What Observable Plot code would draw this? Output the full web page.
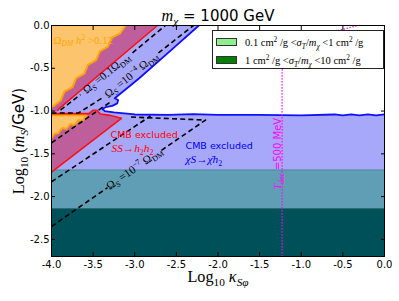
<!DOCTYPE html>
<html><head><meta charset="utf-8">
<script src="https://cdn.jsdelivr.net/npm/d3@7"></script>
<script src="https://cdn.jsdelivr.net/npm/@observablehq/plot@0.6"></script>
<style>
body{margin:0;background:#fff;}
#wrap{position:relative;width:399px;height:301px;}
#wrap svg{display:block;}
#legend{position:absolute;left:212px;top:30px;width:172px;height:39px;box-sizing:border-box;border:1px solid #222;background:#fff;font-family:"Liberation Serif",serif;font-size:10.5px;color:#000;}
.row{position:absolute;left:3px;display:flex;align-items:center;white-space:nowrap;height:12px;}
.patch{width:19px;height:6px;border:1px solid #333;margin-right:8px;}
sub,sup{font-size:70%;line-height:0;}
</style></head><body><div id="wrap"></div>
<script>
// ---------- data ----------
const xTicks = [-4, -3.5, -3, -2.5, -2, -1.5, -1, -0.5, 0];
const yTicks = [0, -0.5, -1, -1.5, -2, -2.5];
const xDomain = [-4, 0];
const yDomain = [-2.7, 0];

// CMB exclusion (chi S -> chi-bar h2): blue boundary line
const blueLineX = [-2.23, -2.6, -2.95, -3.24, -3.2, -3.21, -3.27, -3.35, -3.39, -3.36, -3.25, -3.0, -2.6, -2.3, -2.0, -1.5, -1.0, -0.6, -0.5, -0.4, -0.3, -0.2, -0.1, 0];
const blueLineY = [0, -0.32, -0.62, -0.85, -0.87, -0.91, -0.94, -0.955, -0.975, -1.0, -1.015, -1.04, -1.045, -1.035, -1.045, -1.045, -1.05, -1.04, -1.05, -1.04, -1.05, -1.04, -1.05, -1.04];
const cornerX = [0, -4, -4];
const cornerY = [-2.7, -2.7, 0];

// CMB exclusion (SS -> h2 h2): red bounded regions
const purpleUpX = [-4, -2.727, -3.916, -3.93, -3.96, -4];
const purpleUpY = [0, 0, -0.977, -1.0, -1.01, -1.01];
const purpleLoX = [-4, -3.55, -3.5, -3.46, -3.41, -3.3, -3.16, -4];
const purpleLoY = [-1.03, -1.03, -0.99, -0.99, -1.035, -1.05, -1.085, -1.715];

// Omega_DM h^2 > 0.12 regions
const orangeUpX = [-4, -3.11, -3.175, -3.278, -3.323, -3.420, -3.464, -3.562, -3.606, -3.703, -3.748, -3.845, -3.889, -3.974, -4];
const orangeUpY = [0, 0, -0.091, -0.145, -0.248, -0.302, -0.405, -0.459, -0.562, -0.616, -0.719, -0.773, -0.876, -0.942, -0.95];
const orangeLoX = [-4, -3.58, -3.628, -3.676, -3.724, -3.772, -3.82, -3.868, -3.916, -3.964, -4];
const orangeLoY = [-1.05, -1.05, -1.116, -1.105, -1.163, -1.151, -1.209, -1.198, -1.256, -1.267, -1.314];

// self-interaction bands
const bandLow = [-2.14, -1.69];   // 0.1 < sigma/m < 1
const bandHigh = [-2.7, -2.14];   // 1 < sigma/m < 10

// Omega_S contours (dashed)
const d1aX = [-3.892, -3.652], d1aY = [-0.988, -0.808];
const d1bX = [-3.027, -2.631], d1bY = [-0.320, 0];
const d2aX = [-4, -3.676, -3.375], d2aY = [-1.023, -1.023, -0.837];
const d2bX = [-2.715, -2.294], d2bY = [-0.320, 0];
const l1X = [-4, -3.47, -3.3], l1Y = [-1.372, -1.012, -0.9];
const l2X = [-4, -2.811], l2Y = [-1.826, -1.058];
const l3aX = [-4, -3.327], l3aY = [-2.349, -1.895];
const l3bX = [-2.679, -2.15, -3.051], l3bY = [-1.459, -1.105, -1.07];

// T_dec = 500 MeV (dotted)
const tdecX = [-1.23, -1.23, -1.22, -1.1, -0.8, -0.32];
const tdecY = [-2.7, -0.55, -0.4, -0.25, -0.12, 0];

const titleText = "m_χ = 1000 GeV";
const xLabel = "Log_10 κ_Sφ";
const yLabel = "Log_10 (m_S/GeV)";

const annotations = [
  {text: "Ω_DM h² > 0.12", x: -3.975, y: -0.174, color: "#ffa500", size: 10, rotate: 0, anchor: "start"},
  {text: "Ω_S = 0.1 Ω_DM", x: -3.339, y: -0.564, color: "#000", size: 10.5, rotate: -39, anchor: "middle"},
  {text: "Ω_S = 10^-4 Ω_DM", x: -3.039, y: -0.581, color: "#000", size: 10.5, rotate: -39, anchor: "middle"},
  {text: "Ω_S = 10^-7 Ω_DM", x: -3.003, y: -1.674, color: "#000", size: 10.5, rotate: -35, anchor: "middle"},
  {text: "CMB excluded", x: -3.291, y: -1.283, color: "#ff0000", size: 9.5, rotate: 0, anchor: "start"},
  {text: "SS→h₂h₂", x: -3.279, y: -1.442, color: "#ff0000", size: 10.5, rotate: 0, anchor: "start"},
  {text: "CMB excluded", x: -2.39, y: -1.407, color: "#0000ff", size: 9.5, rotate: 0, anchor: "start"},
  {text: "χS→χ̄h₂", x: -2.39, y: -1.57, color: "#0000ff", size: 10.5, rotate: 0, anchor: "start"}
];
const tdecLabel = {text: "T_dec = 500 MeV", x: -1.23, y: -1.5};

const SERIF = "Liberation Serif";
const RICH = {
  "m_χ = 1000 GeV": [["m","i"],["χ","i sub"],[" = 1000 GeV",""]],
  "Log_10 (m_S/GeV)": [["Log","s"],["10","s sub"],[" (","s"],["m","i"],["S","i sub"],["/GeV)",""]],
  "Log_10 κ_Sφ": [["Log","s"],["10","s sub"],[" ","s"],["κ","i"],["Sφ","i sub"]],
  "Ω_DM h² > 0.12": [["Ω","s"],["DM","i sub"],[" h","i"],["2","s sup"],[" >0.12","s"]],
  "Ω_S = 0.1 Ω_DM": [["Ω","s"],["S","i sub"],[" =0.1","s"],["Ω","s"],["DM","s sub"]],
  "Ω_S = 10^-4 Ω_DM": [["Ω","s"],["S","i sub"],[" =10","s"],["−4","s sup"],[" Ω","s"],["DM","s sub"]],
  "Ω_S = 10^-7 Ω_DM": [["Ω","s"],["S","i sub"],[" =10","s"],["−7","s sup"],[" Ω","s"],["DM","s sub"]],
  "SS→h₂h₂": [["SS","i"],["→","s"],["h","i"],["2","s sub"],["h","i"],["2","s sub"]],
  "χS→χ̄h₂": [["χS","i"],["→","s"],["χ̄","i"],["h","i"],["2","s sub"]],
  "T_dec = 500 MeV": [["T","i"],["dec","i sub"],[" =500 MeV",""]]
};

// ---------- styles ----------
const C = {blue: "#a8a8fb", blueLine: "#1010ff", purple: "#be5f9c", orange: "#fcc46c", orangeLine: "#ffa500",
  red: "#ff1010", tealLight: "#5f9eb5", tealDark: "#00505a", magenta: "#ff00ff"};

const P = (xs, ys) => xs.map((x, i) => ({x, y: ys[i]}));
const poly = (xs, ys, fill) => Plot.line(P(xs, ys), {x: "x", y: "y", fill, stroke: "none"});
const path = (xs, ys, o) => Plot.line(P(xs, ys), {x: "x", y: "y", strokeLinejoin: "round", strokeLinecap: "butt", ...o});
const dashed = {stroke: "#000", strokeWidth: 1.6, strokeDasharray: "5,3.2"};

const chart = Plot.plot({
  width: 399, height: 301,
  marginLeft: 51, marginRight: 15, marginTop: 25, marginBottom: 45,
  x: {domain: xDomain},
  y: {domain: yDomain},
  style: {fontFamily: "DejaVu Sans", fontSize: "10px", background: "#fff", overflow: "visible"},
  marks: [
    poly(blueLineX.concat(cornerX), blueLineY.concat(cornerY), C.blue),
    poly(purpleUpX, purpleUpY, C.purple),
    poly(purpleLoX, purpleLoY, C.purple),
    poly(orangeUpX, orangeUpY, C.orange),
    poly(orangeLoX, orangeLoY, C.orange),
    Plot.rect([bandLow], {x1: () => xDomain[0], x2: () => xDomain[1], y1: d => d[0], y2: d => d[1], fill: C.tealLight}),
    Plot.rect([bandHigh], {x1: () => xDomain[0], x2: () => xDomain[1], y1: d => d[0], y2: d => d[1], fill: C.tealDark}),
    Plot.ruleY([bandLow[1]], {stroke: "#4e8aa6", strokeWidth: 1}),
    Plot.ruleY([bandHigh[1]], {stroke: "#2f6f78", strokeWidth: 1}),
    path(orangeUpX.slice(1), orangeUpY.slice(1), {stroke: C.orangeLine, strokeWidth: 2}),
    path(orangeLoX, orangeLoY, {stroke: C.orangeLine, strokeWidth: 2}),
    path(purpleUpX.slice(1, 4), purpleUpY.slice(1, 4), {stroke: C.red, strokeWidth: 1.6}),
    path(purpleLoX, purpleLoY, {stroke: C.red, strokeWidth: 1.6}),
    path(d1aX, d1aY, dashed), path(d1bX, d1bY, dashed),
    path(d2aX, d2aY, dashed), path(d2bX, d2bY, dashed),
    path(l1X, l1Y, dashed), path(l2X, l2Y, dashed),
    path(l3aX, l3aY, dashed), path(l3bX, l3bY, dashed),
    path(blueLineX, blueLineY, {stroke: C.blueLine, strokeWidth: 1.8}),
    path(tdecX, tdecY, {stroke: C.magenta, strokeWidth: 1.4, strokeDasharray: "1.3,1.7"}),
    ...annotations.map(a => Plot.text([a], {x: "x", y: "y", text: "text", fill: a.color, fontSize: a.size,
      rotate: a.rotate, textAnchor: a.anchor, lineAnchor: "middle", fontFamily: "DejaVu Sans"})),
    Plot.text([tdecLabel], {x: "x", y: "y", text: "text", fill: C.magenta, fontSize: 10, rotate: -90,
      textAnchor: "middle", lineAnchor: "bottom", dx: -1}),
    Plot.frame({stroke: "#000", strokeWidth: 1}),
    Plot.axisX({ticks: xTicks, tickSize: -4, tickFormat: () => "", label: null}),
    Plot.axisX({anchor: "top", ticks: xTicks, tickSize: -4, tickFormat: () => "", label: null}),
    Plot.axisY({ticks: yTicks, tickSize: -4, tickFormat: () => "", label: null}),
    Plot.axisY({anchor: "right", ticks: yTicks, tickSize: -4, tickFormat: () => "", label: null}),
    Plot.axisX({ticks: xTicks, tickSize: 0, tickPadding: 4, tickFormat: d => d.toFixed(1), label: null, fontSize: 10}),
    Plot.axisY({ticks: yTicks, tickSize: 0, tickPadding: 2, tickFormat: d => d.toFixed(1), label: null, fontSize: 10}),
    Plot.text([titleText], {frameAnchor: "top", text: d => d, dy: -9, fontSize: 15, lineAnchor: "middle", textAnchor: "middle"}),
    Plot.text([xLabel], {frameAnchor: "bottom", text: d => d, dy: 21, fontSize: 15, lineAnchor: "middle", textAnchor: "middle"}),
    Plot.text([yLabel], {frameAnchor: "left", text: d => d, dx: -32, rotate: -90, fontSize: 15, lineAnchor: "middle", textAnchor: "middle"})
  ]
});

const wrap = document.getElementById("wrap");
wrap.appendChild(chart);

// rich text (sub/superscripts, math fonts)
chart.querySelectorAll("text").forEach(t => {
  const segs = RICH[t.textContent];
  if (!segs) return;
  const fs = parseFloat(getComputedStyle(t).fontSize) || 10;
  t.textContent = "";
  let shift = 0;
  for (const [str, style] of segs) {
    const f = style.split(" ");
    const ts = document.createElementNS("http://www.w3.org/2000/svg", "tspan");
    ts.textContent = str;
    let target = 0, size = fs;
    const serif = f.includes("i") || f.includes("s");
    if (serif) size = fs * 1.08;
    if (f.includes("sub")) { target = 0.24 * fs; size *= 0.7; }
    if (f.includes("sup")) { target = -0.4 * fs; size *= 0.7; }
    if (serif) ts.setAttribute("font-family", SERIF);
    if (f.includes("i")) ts.setAttribute("font-style", "italic");
    ts.setAttribute("font-size", size.toFixed(2));
    if (target !== shift) { ts.setAttribute("dy", (target - shift).toFixed(2)); shift = target; }
    t.appendChild(ts);
  }
});

// legend
const legendItems = [
  {fill: "#90ee90", html: '0.1 cm<sup>2</sup> /g &lt;<i>σ<sub>T</sub></i>/<i>m<sub>χ</sub></i> &lt;1 cm<sup>2</sup> /g'},
  {fill: "#008000", html: '1 cm<sup>2</sup> /g &lt;<i>σ<sub>T</sub></i>/<i>m<sub>χ</sub></i> &lt;10 cm<sup>2</sup> /g'}
];
const lg = document.createElement("div");
lg.id = "legend";
legendItems.forEach((it, i) => {
  const r = document.createElement("div");
  r.className = "row";
  r.style.top = (i === 0 ? 5 : 23) + "px";
  r.innerHTML = `<span class="patch" style="background:${it.fill}"></span><span>${it.html}</span>`;
  lg.appendChild(r);
});
wrap.appendChild(lg);
</script></body></html>
